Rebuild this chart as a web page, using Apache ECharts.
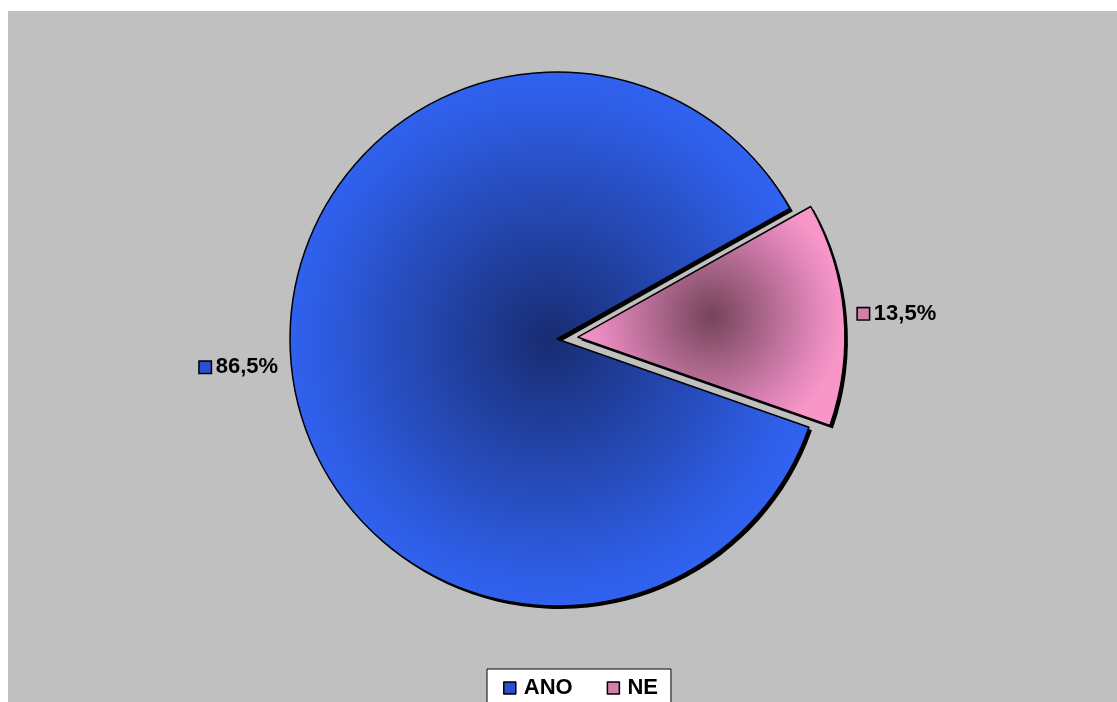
<!DOCTYPE html>
<html>
<head>
<meta charset="utf-8">
<script src="https://cdn.jsdelivr.net/npm/echarts@6/dist/echarts.min.js"></script>
<style>
  html, body { margin: 0; padding: 0; background: #fff; width: 1117px; height: 702px; overflow: hidden; }
  #main { position: absolute; left: 8px; top: 11px; width: 1109px; height: 691px; }
</style>
</head>
<body>
<div id="main"></div>
<script>
var categories = ['ANO', 'NE'];
var values = [86.5, 13.5];

var blueFill = {
  type: 'radial', x: 0.5, y: 0.5, r: 0.62,
  colorStops: [{ offset: 0, color: '#182c72' }, { offset: 0.75, color: '#2f5fe8' }, { offset: 1, color: '#3366ff' }]
};
var pinkFill = {
  type: 'radial', x: 0.5, y: 0.5, r: 0.6,
  colorStops: [{ offset: 0, color: '#74445a' }, { offset: 0.8, color: '#e287bb' }, { offset: 1, color: '#f896c8' }]
};
var fills = [blueFill, pinkFill];
var keyFills = ['#2a4fd0', '#d080a8'];

function fmt(v) {
  return v.toFixed(1).replace('.', ',') + '%';
}

var chart = echarts.init(document.getElementById('main'));

var common = {
  type: 'pie',
  radius: [0, 267],
  startAngle: 340.7,
  clockwise: true,
  selectedMode: 'single',
  selectedOffset: 21,
  emphasis: { disabled: true }
};

var option = {
  backgroundColor: '#c0c0c0',
  animation: false,
  legend: {
    top: 658,
    left: 479,
    data: categories.map(function (c, i) {
      return { name: c, itemStyle: { color: keyFills[i], borderColor: '#000', borderWidth: 1.5 } };
    }),
    icon: 'rect',
    itemWidth: 12,
    itemHeight: 12,
    itemGap: 34,
    padding: [8, 13, 8, 16],
    backgroundColor: '#ffffff',
    borderColor: '#000',
    borderWidth: 1,
    borderRadius: 0,
    textStyle: { fontFamily: 'Liberation Sans, Arial', fontWeight: 'bold', fontSize: 22, color: '#000', padding: [0, 0, 0, 3] }
  },
  series: [
    // drop shadow underneath
    Object.assign({}, common, {
      center: [552, 331],
      silent: true,
      z: 1,
      label: { show: false },
      labelLine: { show: false },
      itemStyle: { color: '#000', borderWidth: 0 },
      data: categories.map(function (c, i) {
        return { name: c, value: values[i], selected: i === 1 };
      })
    }),
    Object.assign({}, common, {
      center: [549, 328],
      z: 2,
      itemStyle: { borderColor: '#000', borderWidth: 1.5 },
      label: {
        show: true,
        position: 'outside',
        fontFamily: 'Liberation Sans, Arial',
        fontWeight: 'bold',
        fontSize: 22,
        color: '#000'
      },
      labelLine: { show: false, length: 12, length2: 0 },
      labelLayout: function (p) {
        return p.dataIndex === 0 ? { dx: 4, dy: 4 } : { dx: -3, dy: 1 };
      },
      data: categories.map(function (c, i) {
        return {
          name: c,
          value: values[i],
          selected: i === 1,
          itemStyle: { color: fills[i] },
          label: {
            formatter: '{sq|}{t|' + fmt(values[i]) + '}',
            rich: {
              sq: { width: 11, height: 11, backgroundColor: keyFills[i], borderColor: '#000', borderWidth: 1.5 },
              t: { fontFamily: 'Liberation Sans, Arial', fontWeight: 'bold', fontSize: 22, color: '#000', padding: [0, 0, 0, 5] }
            }
          }
        };
      })
    })
  ]
};

chart.setOption(option);
</script>
</body>
</html>
